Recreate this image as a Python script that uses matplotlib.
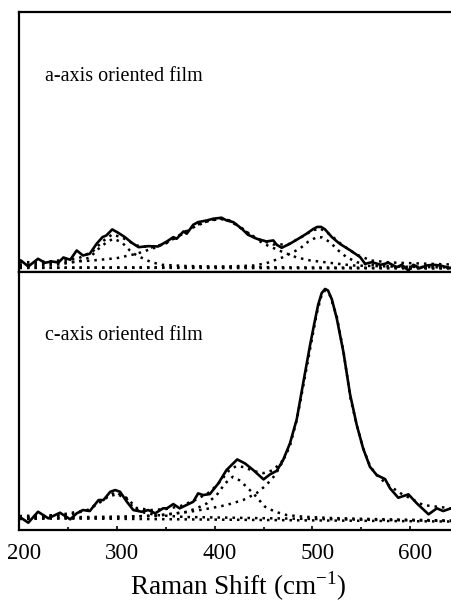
import matplotlib
matplotlib.use('Agg')
import matplotlib.pyplot as plt
from matplotlib.ticker import MultipleLocator
from matplotlib.transforms import ScaledTranslation

plt.rcParams['font.family'] = ['Liberation Serif', 'DejaVu Serif']
plt.rcParams['mathtext.fontset'] = 'custom'
plt.rcParams['mathtext.rm'] = 'Liberation Serif'

# a-axis oriented film (upper panel)
a_x = [200, 201.5, 209, 219, 226, 233, 240, 245, 252, 258.6, 265, 272, 279, 285, 289, 295,
       301, 308, 315, 322, 332, 342, 351, 357.6, 361, 368, 371.3, 378, 383, 392, 398.6,
       407, 412, 419, 427.7, 434, 443, 453, 460, 463.5, 468.6, 477, 487, 494, 501, 505, 509,
       513, 520, 528, 539, 549, 554, 561, 570, 578, 586.5, 591.6, 598.4, 603.5, 610, 617,
       624, 631, 637.7, 642]
a_y = [11, 11, 5, 12.7, 8.7, 10, 9, 14, 11.7, 21, 16, 17.7, 27.7, 34.3, 36, 42,
       38.7, 34.3, 28.7, 24.3, 25.3, 25, 30, 34.3, 32.7, 40, 37.7, 46.7, 49.3, 51, 52.7,
       53.7, 51, 49.3, 42.7, 36.7, 32.7, 30, 31, 26.7, 23.7, 27.7, 33.5, 37.7, 42.5, 44.5, 44.5,
       42, 34.3, 27.7, 21, 14.3, 7.7, 9.3, 6.7, 8.7, 4.3, 6.7, 1, 6.7, 3.3, 6,
       6.7, 6, 4.3, 3.3]

a_base_x = [200, 642]
a_base_y = [4, 3]

a_p1_x = [200, 240, 260, 272, 281, 289, 296, 304.7, 313, 320, 335, 346, 370, 420, 500, 642]
a_p1_y = [5, 7, 10, 14, 22.7, 29, 32.7, 29.3, 21, 16, 9.3, 6.7, 5.5, 4.5, 4, 3.5]

a_p2_x = [200, 248, 275, 299.5, 320, 340.5, 361, 380, 392, 405, 415, 427, 436, 450, 470,
          484, 498, 515, 528, 542, 580, 642]
a_p2_y = [6.5, 9.3, 11, 13.3, 17.7, 24.3, 34, 45, 50, 52.5, 51, 44, 37, 27.7, 19.3,
          14, 11, 9, 7.5, 6, 5, 4]

a_p3_x = [200, 400, 440, 453, 470, 487, 496, 504.5, 510, 518, 526.6, 535, 545.5, 556, 580, 642]
a_p3_y = [3.5, 4.5, 6, 8.3, 14.3, 22.7, 30, 34.3, 34, 29.3, 21, 14.3, 9.3, 7, 5, 4]

a_fit_x = [200, 230, 260, 275, 285, 295, 305, 320, 335, 350, 365, 380, 395, 405, 415, 430,
           445, 460, 475, 490, 500, 508, 518, 530, 545, 560, 580, 610, 642]
a_fit_y = [9, 10, 13, 20, 30, 37, 34, 26, 24, 28, 37, 46, 51, 53, 51, 41,
           32, 27, 27, 35, 41, 43, 37, 27, 17, 11, 9, 8, 7]

# c-axis oriented film (lower panel)
c_x = [200, 209, 219, 229.5, 241.5, 252, 258.6, 265, 272, 281, 286, 293, 298, 303, 310,
       316.6, 325, 332, 339, 347, 351, 357.6, 364, 371, 378, 383, 388, 395, 403.7, 412,
       423, 431, 439.5, 450, 456.6, 463.5, 470, 477, 484, 490.8, 497.6, 502, 506, 509.6, 513,
       516, 520, 525, 531.8, 538.6, 545.5, 552, 559, 566, 574.5, 579.6, 588, 598.4, 607, 619,
       627.5, 634, 642]
c_y = [13.3, 7.3, 18.3, 11.7, 17.3, 10.7, 16.7, 20, 19, 30, 30, 38.3, 40, 38.3, 28.3,
       20, 18.3, 20, 16.7, 21.7, 21.7, 26, 21.7, 25, 28.3, 36.7, 35, 36, 46.7, 60,
       70.7, 66.7, 60, 50.7, 55.7, 59.3, 70, 86.7, 111, 148.3, 185, 207, 226, 237.5, 241.5,
       240, 231, 212, 178.3, 136, 105, 81.7, 63.3, 55, 51, 41.7, 32.3, 35.7, 26.7, 15.7,
       21.7, 19, 21.7]

c_base_x = [200, 642]
c_base_y = [12, 8.5]

c_p1_x = [200, 250, 270, 281, 290, 300, 310, 316, 325, 340, 370, 642]
c_p1_y = [12.5, 15, 20, 26.7, 33, 36, 31, 23, 18, 15, 13, 9]

c_p2_x = [200, 340, 370, 381.5, 392, 402, 410.6, 418.5, 425, 432.6, 441, 451.5, 461.8,
          473.7, 490.8, 520, 560, 642]
c_p2_y = [12, 14, 18, 21.7, 26.7, 35, 46.7, 53.3, 50, 43.3, 35, 23.3, 18.3,
          15, 13.3, 12, 11, 9.5]

c_p3_x = [200, 300, 344, 374.7, 395, 412, 429, 442.6, 452.8, 461.8, 468.6, 477, 484, 491,
          498, 504.5, 509.6, 513, 518, 525, 532, 539, 545.5, 552, 559, 566, 575, 590,
          613.6, 642]
c_p3_y = [11, 12.5, 15, 18.3, 21.7, 25, 30, 36.7, 45, 55, 66.7, 84, 110, 146,
          183, 217, 236, 240, 235, 214, 178, 132, 105, 82, 64, 55, 47, 37,
          25, 21.7]

c_fit_x = [200, 240, 270, 285, 298, 310, 320, 335, 350, 365, 380, 395, 405, 415, 422,
           430, 440, 450, 460, 470]
c_fit_y = [14, 15, 20, 30, 38, 32, 22, 20, 21, 24, 30, 38, 48, 60, 64,
           63, 59, 57, 60, 70]

fig = plt.figure(figsize=(4.51, 6.02), dpi=100)
ax1 = fig.add_axes([0.0432, 0.549, 0.9568, 0.431])
ax2 = fig.add_axes([0.0432, 0.1196, 0.9568, 0.4294])

dot = (0, (1, 2))

panels = [
    (ax1, a_x, a_y, [(a_base_x, a_base_y), (a_p1_x, a_p1_y), (a_p2_x, a_p2_y),
                     (a_p3_x, a_p3_y), (a_fit_x, a_fit_y)], 'a-axis oriented film'),
    (ax2, c_x, c_y, [(c_base_x, c_base_y), (c_p1_x, c_p1_y), (c_p2_x, c_p2_y),
                     (c_p3_x, c_p3_y), (c_fit_x, c_fit_y)], 'c-axis oriented film'),
]

for ax, x, y, comps, label in panels:
    for cx, cy in comps:
        ax.plot(cx, cy, color='black', lw=1.8, linestyle=dot)
    ax.plot(x, y, color='black', lw=1.9, solid_joinstyle='round')
    ax.text(226, 190, label, fontsize=14.5, va='baseline', ha='left')
    ax.set_xlim(200, 642)
    ax.set_ylim(0, 259)
    ax.set_yticks([])
    ax.spines['right'].set_visible(False)
    for s in ['left', 'bottom', 'top']:
        ax.spines[s].set_linewidth(1.6)
    ax.xaxis.set_major_locator(MultipleLocator(100))
    ax.xaxis.set_minor_locator(MultipleLocator(50))

ax1.tick_params(axis='x', which='both', direction='out', labelbottom=False, top=False, width=1.2)
ax1.tick_params(axis='x', which='major', length=4.5)
ax1.tick_params(axis='x', which='minor', length=2.5)

ax2.tick_params(axis='x', which='both', direction='in', top=False, width=1.2, labelsize=16.5, pad=9)
ax2.tick_params(axis='x', which='major', length=3)
ax2.tick_params(axis='x', which='minor', length=2.5)
ax2.set_xlabel('Raman Shift (cm$^{\\mathregular{-1}}$)', fontsize=19.5, labelpad=4)

shift = ScaledTranslation(5 / 100, 0, fig.dpi_scale_trans)
for lab in ax2.get_xticklabels():
    lab.set_transform(lab.get_transform() + shift)
ax2.xaxis.label.set_transform(ax2.xaxis.label.get_transform() + ScaledTranslation(3 / 100, 0, fig.dpi_scale_trans))

fig.savefig('out.png', dpi=100)
